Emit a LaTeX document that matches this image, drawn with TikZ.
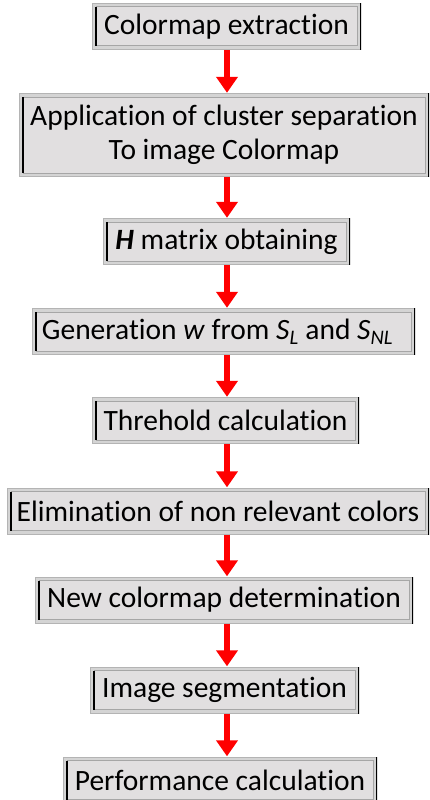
\documentclass[tikz,border=0pt]{standalone}
\usepackage{fontspec}
\setmainfont{Carlito}[RawFeature={-liga;-clig;-calt}]
\usetikzlibrary{arrows.meta}

\definecolor{rimgray}{HTML}{B4B4B4}
\definecolor{framegray}{HTML}{D4D4D4}
\definecolor{facegray}{HTML}{E1DFE0}
\definecolor{edgegray}{HTML}{A6A6A6}

\tikzset{
  stage/.style={
    rectangle, fill=framegray, minimum height=47pt, align=center,
    inner xsep=8pt, inner ysep=4pt,
    font=\fontsize{29.5pt}{34pt}\selectfont,
    path picture={
      \draw[rimgray, line width=1pt]
      ([shift={(.5pt,-.5pt)}]path picture bounding box.north west)
      rectangle ([shift={(-.5pt,.5pt)}]path picture bounding box.south east);
      \draw[edgegray, fill=facegray, line width=1pt]
      ([shift={(4pt,-4pt)}]path picture bounding box.north west)
      rectangle ([shift={(-4pt,4pt)}]path picture bounding box.south east);
      % dark left groove and dark right rim
      \draw[black, line width=1.6pt]
      ([shift={(4pt,-4pt)}]path picture bounding box.north west)
      -- ([shift={(4pt,4pt)}]path picture bounding box.south west);
      \draw[black, line width=2.4pt]
      (path picture bounding box.north east)
      -- (path picture bounding box.south east);
    }
  },
  flow/.style={draw=red, line width=6pt, -{Triangle[width=21pt,length=16pt]}},
}

\begin{document}
\begin{tikzpicture}[x=1pt, y=1pt]
  \useasboundingbox (0,0) rectangle (430,-800);

  \node[stage, minimum width=269pt] (extract) at (226.5,-26.5) {Colormap extraction};
  \node[stage, minimum width=410pt, minimum height=84pt] (cluster) at (224,-135)
  {Application of cluster separation\\To image Colormap};
  \node[stage, minimum width=247pt] (hmat) at (226.5,-241.5) {\textbf{\textit{H}} matrix obtaining};
  \node[stage, minimum width=383pt] (weights) at (223.5,-331.5)
  {Generation \textit{w} from \textit{S\textsubscript{L}} and \textit{S\textsubscript{NL}}\hspace{12pt}};
  \node[stage, minimum width=267pt] (thresh) at (225.5,-420.5) {Threhold calculation};
  \node[stage, minimum width=422pt] (elim) at (218,-511) {Elimination of non relevant colors};
  \node[stage, minimum width=378pt] (newmap) at (224,-600) {New colormap determination};
  \node[stage, minimum width=269pt] (segment) at (224.5,-690) {Image segmentation};
  \node[stage, minimum width=314pt] (perf) at (220,-780) {Performance calculation};

  \coordinate (axis) at (227,0);

  \foreach \a/\b in {extract/cluster, cluster/hmat, hmat/weights, weights/thresh,
                     thresh/elim, elim/newmap, newmap/segment, segment/perf}
    \draw[flow] (\a.south -| axis) -- (\b.north -| axis);
\end{tikzpicture}
\end{document}
